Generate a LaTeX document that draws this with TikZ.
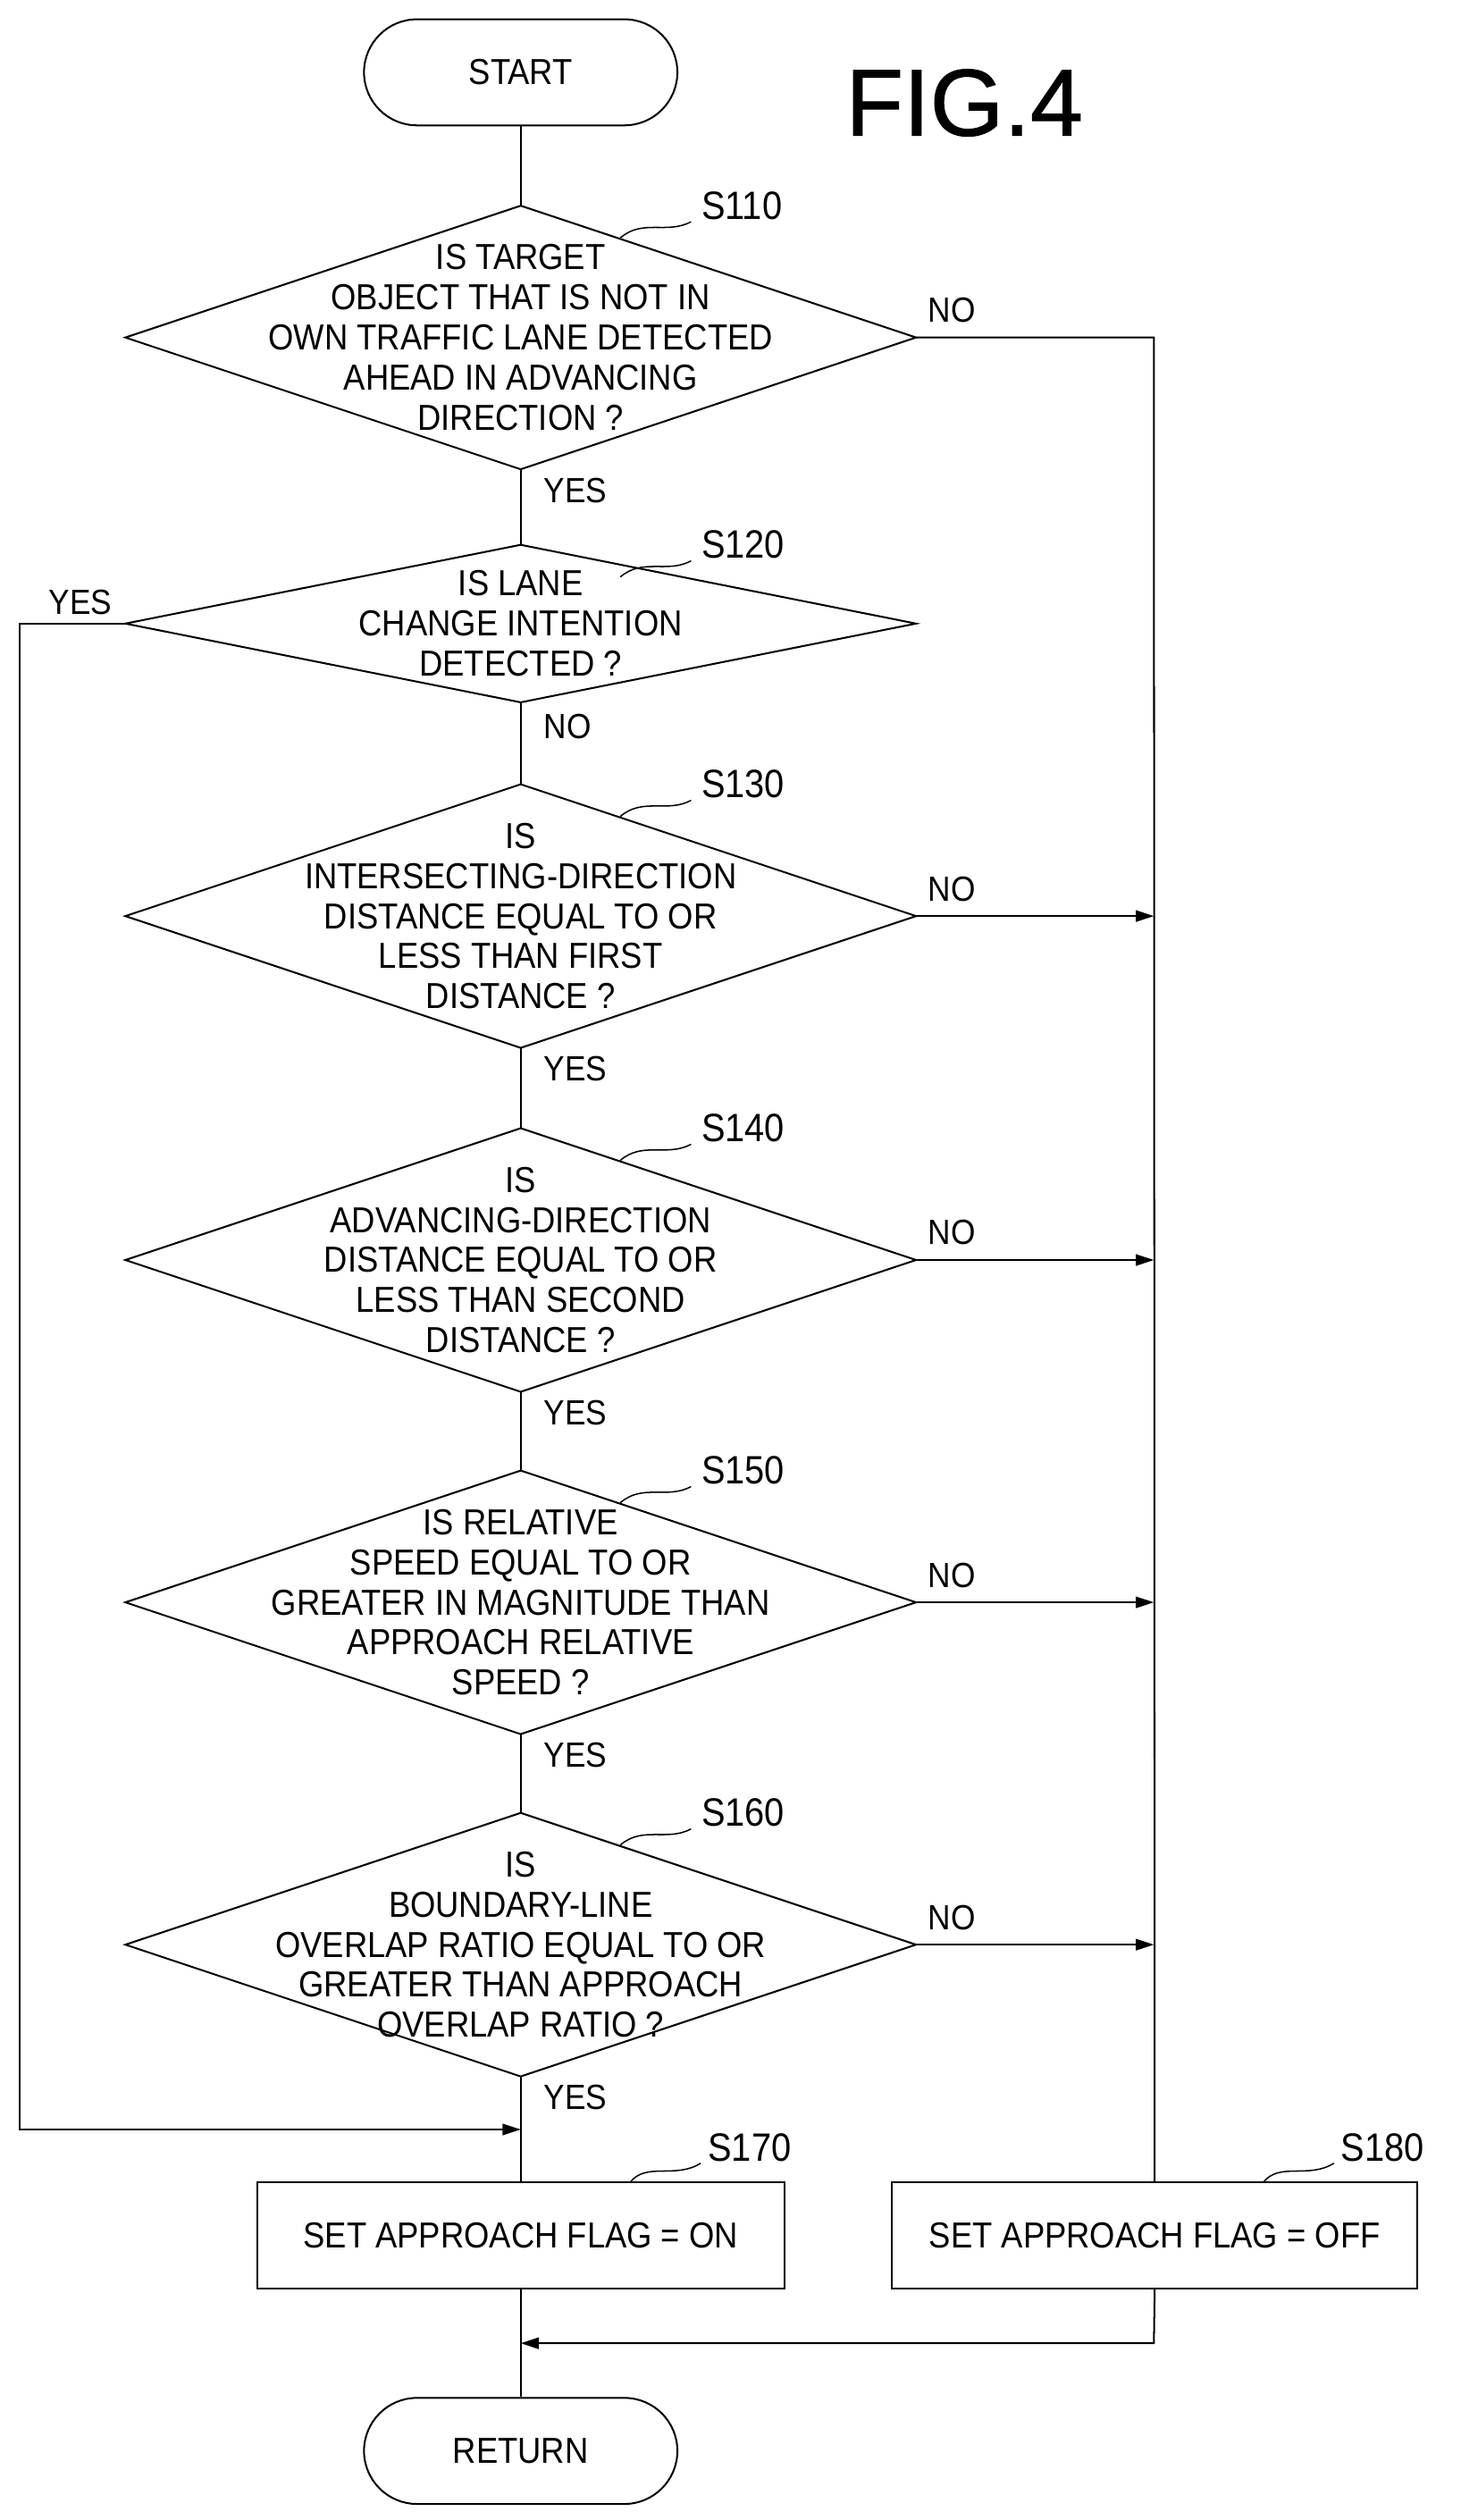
\documentclass[tikz,border=0pt]{standalone}
\usepackage{fontspec}
\setmainfont[FakeStretch=0.9]{Liberation Sans}
\usetikzlibrary{arrows.meta}
\begin{document}
\begin{tikzpicture}[x=0.05cm,y=-0.05cm,line width=1.6pt,
  txt/.style={font=\fontsize{32}{35.5}\selectfont,align=center,inner sep=0},
  lbl/.style={font=\fontsize{31}{35}\selectfont,inner sep=0},
  sl/.style={font=\fontsize{35}{38}\selectfont,inner sep=0},
  arr/.style={-{Triangle[length=16pt,width=10pt]}}]
\useasboundingbox (0,0) rectangle (909,1568);
\newcommand{\dia}[5]{% name, cy, halfheight, text, slabel
  \coordinate (#1-l) at (78,#2); \coordinate (#1-r) at (570,#2);
  \coordinate (#1-t) at (324,#2-#3); \coordinate (#1-b) at (324,#2+#3);
  \draw (#1-l)--(#1-t)--(#1-r)--(#1-b)--cycle;
  \node[txt] (#1) at (324,#2) {#4};
  \draw[line width=1.2pt] (386,#2-#3+20) .. controls (400,#2-#3+8) and (415,#2-#3+18) .. (430,#2-#3+10);
  \node[sl,anchor=west] (#1s) at (436,#2-#3) {#5};}
\node[draw,rounded corners=1.65cm,minimum width=9.75cm,minimum height=3.3cm,txt] (start) at (324,45) {START};
\node[draw,rounded corners=1.65cm,minimum width=9.75cm,minimum height=3.3cm,txt] (ret) at (324,1525) {RETURN};
\node[font=\fontsize{84}{90}\selectfont,inner sep=0] (fig) at (600,64) {\addfontfeature{FakeStretch=1.0,FakeBold=1}FIG.4};
\dia{s110}{210}{82}{IS TARGET\\OBJECT THAT IS NOT IN\\OWN TRAFFIC LANE DETECTED\\AHEAD IN ADVANCING\\DIRECTION ?}{S110}
\dia{s120}{388}{49}{IS LANE\\CHANGE INTENTION\\DETECTED ?}{S120}
\dia{s130}{570}{82}{IS\\INTERSECTING-DIRECTION\\DISTANCE EQUAL TO OR\\LESS THAN FIRST\\DISTANCE ?}{S130}
\dia{s140}{784}{82}{IS\\ADVANCING-DIRECTION\\DISTANCE EQUAL TO OR\\LESS THAN SECOND\\DISTANCE ?}{S140}
\dia{s150}{997}{82}{IS RELATIVE\\SPEED EQUAL TO OR\\GREATER IN MAGNITUDE THAN\\APPROACH RELATIVE\\SPEED ?}{S150}
\dia{s160}{1210}{82}{IS\\BOUNDARY-LINE\\OVERLAP RATIO EQUAL TO OR\\GREATER THAN APPROACH\\OVERLAP RATIO ?}{S160}
\node[draw,minimum width=16.4cm,minimum height=3.3cm,txt] (s170) at (324,1391) {SET APPROACH FLAG = ON};
\node[draw,minimum width=16.35cm,minimum height=3.3cm,txt] (s180) at (718.5,1391) {SET APPROACH FLAG = OFF};
\draw[line width=1.2pt] (392,1358) .. controls (402,1345) and (420,1356) .. (436,1346);
\node[sl,anchor=west] (s170s) at (440,1336) {S170};
\draw[line width=1.2pt] (786,1358) .. controls (796,1345) and (814,1356) .. (830,1346);
\node[sl,anchor=west] (s180s) at (834,1336) {S180};
% main spine
\draw (start) -- (s110-t);
\draw (s110-b) -- (s120-t);
\draw (s120-b) -- (s130-t);
\draw (s130-b) -- (s140-t);
\draw (s140-b) -- (s150-t);
\draw (s150-b) -- (s160-t);
\draw (s160-b) -- (s170);
\draw (s170) -- (ret);
\node[lbl,anchor=west] at (338,305) {YES};
\node[lbl,anchor=west] at (338,452) {NO};
\node[lbl,anchor=west] at (338,665) {YES};
\node[lbl,anchor=west] at (338,879) {YES};
\node[lbl,anchor=west] at (338,1092) {YES};
\node[lbl,anchor=west] at (338,1305) {YES};
% NO branches
\draw (s110-r) -- (718,210) -- (s180.north);
\node[lbl,anchor=west] at (577,193) {NO};
\foreach \n/\y in {s130/570,s140/784,s150/997,s160/1210}{
  \draw[arr] (\n-r) -- (718,\y);
  \node[lbl,anchor=west] at (577,\y-17) {NO};}
% YES from S120
\coordinate (j1) at (324,1325);
\draw[arr] (s120-l) -- (12,388) -- (12,1325) -- (j1);
\node[lbl] at (50,375) {YES};
\coordinate (j2) at (324,1458);
\draw[arr] (s180.south) -- (718,1458) -- (j2);
\end{tikzpicture}
\end{document}
